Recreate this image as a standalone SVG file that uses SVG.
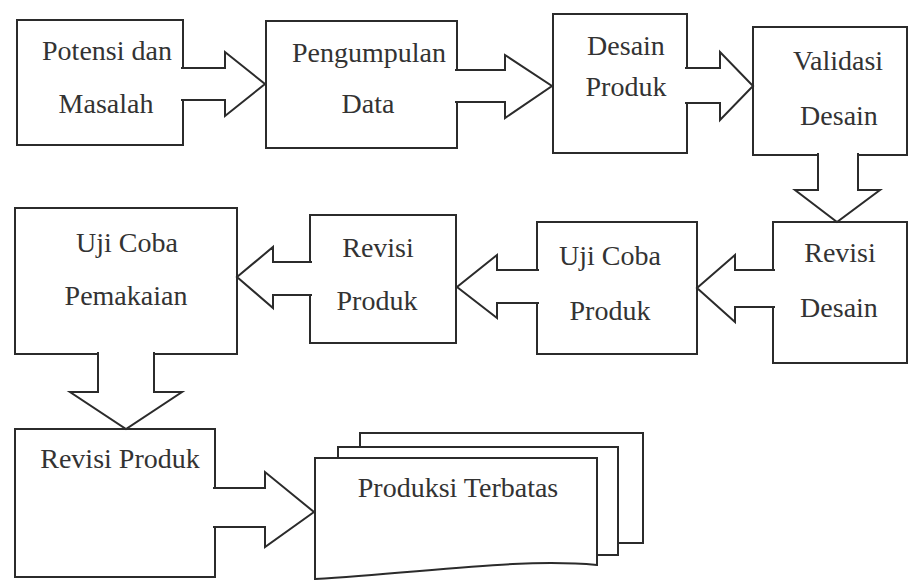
<svg xmlns="http://www.w3.org/2000/svg" width="909" height="580" viewBox="0 0 909 580">
<style>
.box{fill:#fff;stroke:#2b2b2b;stroke-width:2}
.arr{fill:#fff;stroke:#2b2b2b;stroke-width:2;stroke-linejoin:miter}
.doc{fill:#fff;stroke:#2b2b2b;stroke-width:2}
</style>
<rect width="909" height="580" fill="#fff"/>
<g font-family="Liberation Serif, DejaVu Serif, Times New Roman, serif" font-size="28" fill="#333" text-anchor="middle">
<g id="n1"><rect class="box" x="17" y="20" width="166" height="125"/><text x="107" y="60">Potensi dan</text><text x="106" y="113">Masalah</text></g>
<g id="n2"><rect class="box" x="266" y="21" width="191" height="127"/><text x="369" y="62">Pengumpulan</text><text x="368" y="113">Data</text></g>
<g id="n3"><rect class="box" x="553" y="14" width="134" height="139"/><text x="626" y="55">Desain</text><text x="626" y="96">Produk</text></g>
<g id="n4"><rect class="box" x="753" y="27" width="154" height="128"/><text x="838" y="70">Validasi</text><text x="839" y="125">Desain</text></g>
<g id="n5"><rect class="box" x="773" y="222" width="134" height="141"/><text x="840" y="262">Revisi</text><text x="839" y="317">Desain</text></g>
<g id="n6"><rect class="box" x="537" y="222" width="160" height="132"/><text x="610" y="265">Uji Coba</text><text x="610" y="320">Produk</text></g>
<g id="n7"><rect class="box" x="310" y="215" width="146" height="128"/><text x="378" y="257">Revisi</text><text x="377" y="310">Produk</text></g>
<g id="n8"><rect class="box" x="15" y="208" width="222" height="146"/><text x="127" y="252">Uji Coba</text><text x="126" y="305">Pemakaian</text></g>
<g id="n9"><rect class="box" x="15" y="429" width="200" height="148"/><text x="120" y="468">Revisi Produk</text></g>
<g id="n10">
<rect class="doc" x="360" y="433" width="283" height="110"/>
<rect class="doc" x="338" y="447" width="280" height="108"/>
<path class="doc" d="M315,458 H597 V565 C520,558 430,572 315,579 Z"/>
<text x="458" y="497">Produksi Terbatas</text>
</g>
</g>
<g id="connectors">
<path class="arr" d="M181,68 H225 V52 L265,84 L225,116 V100 H181"/>
<path class="arr" d="M455,70 H505 V55 L552,86 L505,118 V102 H455"/>
<path class="arr" d="M685,68 H720 V52 L753,86 L720,120 V103 H685"/>
<path class="arr" d="M818,153 V190 H795 L837,222 L880,190 H858 V153"/>
<path class="arr" d="M775,270 H735 V255 L697,288 L735,322 V307 H775"/>
<path class="arr" d="M539,270 H497 V255 L457,287 L497,318 V303 H539"/>
<path class="arr" d="M312,262 H273 V247 L237,277 L273,308 V295 H312"/>
<path class="arr" d="M98,352 V392 H70 L126,429 L182,392 H154 V352"/>
<path class="arr" d="M213,488 H265 V472 L314,512 L265,547 V527 H213"/>
</g>
</svg>
